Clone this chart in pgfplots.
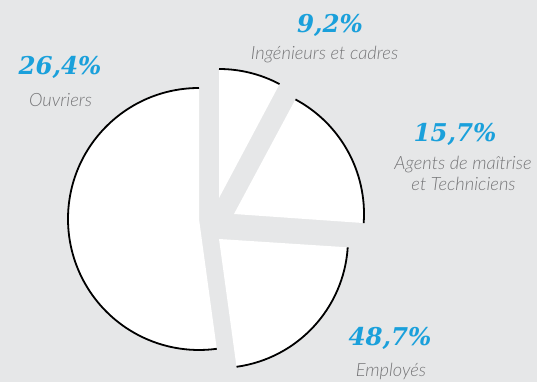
\documentclass[border=0pt]{standalone}
\usepackage{pgfplots}
\pgfplotsset{compat=1.18}
\usepackage{pgfplotstable}
\usepackage{fontspec}
\setmainfont{Lato}
\newfontfamily\pctfont{DejaVu Serif}
\newfontfamily\lblfont{Lato Light}[ItalicFont={Lato Light Italic}]

\definecolor{bg}{RGB}{230,231,232}
\definecolor{pctblue}{RGB}{26,160,219}
\definecolor{lblgray}{RGB}{118,118,120}

% slices as drawn: centre (px), radius, start/end angle (deg)
\pgfplotstableread{
cx  cy  r   a      b
199 163 131 90     277.8
219 184 129 62     90
234 168 130 -4     61.8
219 143 129 -82.2  -3.7
}\slices

\newcommand{\pct}[1]{{\pctfont\bfseries\itshape\fontsize{24.5}{26}\selectfont\color{pctblue}#1}}
\newcommand{\lbl}[1]{{\lblfont\itshape\fontsize{18.3}{20}\selectfont\color{lblgray}#1}}

\begin{document}
\begin{tikzpicture}
\begin{axis}[
    width=537pt, height=382pt,
    scale only axis,
    xmin=0, xmax=537,
    ymin=0, ymax=382,
    hide axis,
    clip=false,
]
\fill[bg] (axis cs:0,0) rectangle (axis cs:537,382);

\pgfplotsinvokeforeach{0,...,3}{
    \pgfplotstablegetelem{#1}{cx}\of\slices \let\cx\pgfplotsretval
    \pgfplotstablegetelem{#1}{cy}\of\slices \let\cy\pgfplotsretval
    \pgfplotstablegetelem{#1}{r}\of\slices \let\rr\pgfplotsretval
    \pgfplotstablegetelem{#1}{a}\of\slices \let\aa\pgfplotsretval
    \pgfplotstablegetelem{#1}{b}\of\slices \let\bb\pgfplotsretval
    \edef\temp{%
        \noexpand\fill[white] (axis cs:\cx,\cy) -- +(\aa:\rr pt)
            arc[start angle=\aa, end angle=\bb, radius=\rr pt] -- cycle;
        \noexpand\draw[black, line width=1.8pt] (axis cs:\cx,\cy) ++(\aa:\rr pt)
            arc[start angle=\aa, end angle=\bb, radius=\rr pt];
    }
    \temp
}

\node[anchor=base] at (axis cs:60,307) {\pct{26,4\%}};
\node[anchor=base] at (axis cs:60.5,275.3) {\lbl{Ouvriers}};
\node[anchor=base] at (axis cs:330,349.3) {\pct{9,2\%}};
\node[anchor=base] at (axis cs:324.5,322) {\lbl{Ingénieurs et cadres}};
\node[anchor=base] at (axis cs:455,240.3) {\pct{15,7\%}};
\node[anchor=base] at (axis cs:463,212) {\lbl{Agents de maîtrise}};
\node[anchor=base] at (axis cs:463.5,191) {\lbl{et Techniciens}};
\node[anchor=base] at (axis cs:390,37) {\pct{48,7\%}};
\node[anchor=base] at (axis cs:391,5.3) {\lbl{Employés}};
\end{axis}
\end{tikzpicture}
\end{document}
